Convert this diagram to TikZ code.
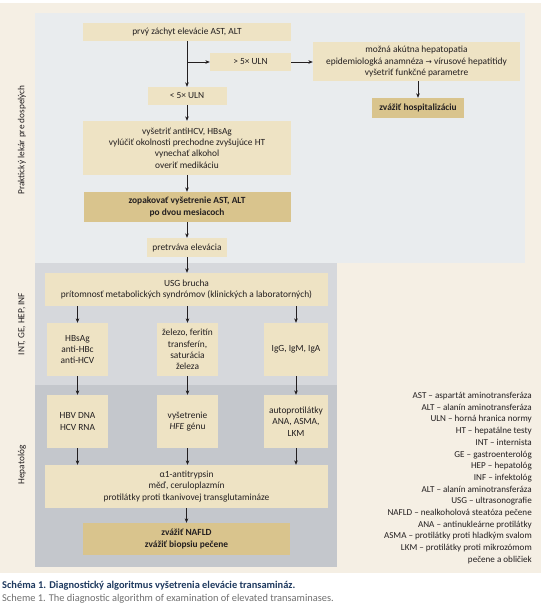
\documentclass[tikz,border=0pt]{standalone}
\usepackage{fontspec}
\setmainfont{Carlito}
\newfontfamily\symfont{DejaVu Sans}
\usetikzlibrary{arrows.meta}
\definecolor{bgbeige}{HTML}{F5EFE4}
\definecolor{panelA}{HTML}{E9ECEE}
\definecolor{panelB}{HTML}{D6D8DC}
\definecolor{panelC}{HTML}{C4C7CC}
\definecolor{lighttan}{HTML}{EEE3C4}
\definecolor{darktan}{HTML}{D9C48D}
\definecolor{capblue}{HTML}{1F3A5F}
\definecolor{capgrey}{HTML}{707070}
\definecolor{ink}{HTML}{231F20}
\begin{document}
\begin{tikzpicture}[x=1pt,y=-1pt,
  box/.style={fill=lighttan, inner sep=0pt, align=center, text=ink,
    font=\fontsize{9.4}{11.3}\selectfont},
  dbox/.style={box, fill=darktan, font=\fontsize{9.4}{11.3}\selectfont\bfseries},
  arr/.style={-{Stealth[length=4.5pt,width=3.6pt]}, line width=0.6pt, draw=ink},
  side/.style={rotate=90, text=ink, font=\fontsize{9.3}{11}\selectfont},
  legend/.style={align=right, anchor=east, inner sep=0pt, text=ink,
    font=\fontsize{9.1}{11.7}\selectfont}]

\useasboundingbox (0,0) rectangle (541,610);
\fill[white] (0,0) rectangle (541,610);
\fill[bgbeige] (0,3) rectangle (541,573);
\fill[panelA] (35,13) rectangle (525,263);
\fill[panelB] (35,263) rectangle (337,385);
\fill[panelC] (35,385) rectangle (337,567);

% side labels
\node[side] (lblA) at (22,140) {Praktický lekár pre dospelých};
\node[side] (lblB) at (22,324) {INT, GE, HEP, INF};
\node[side] (lblC) at (22,465) {Hepatológ};

% top part
\node[box, minimum width=208pt, minimum height=18pt] (first) at (187,32) {prvý záchyt elevácie AST, ALT};
\node[box, minimum width=81pt, minimum height=18pt] (gt) at (250.5,62) {> 5× ULN};
\node[box, minimum width=207pt, minimum height=39pt] (acute) at (416.5,61.5)
  {možná akútna hepatopatia\\epidemiologká anamnéza {\symfont\fontsize{7.5}{9}\selectfont →} vírusové hepatitidy\\vyšetriť funkčné parametre};
\node[dbox, minimum width=92pt, minimum height=20pt] (hosp) at (418,108) {zvážiť hospitalizáciu};
\node[box, minimum width=79pt, minimum height=18pt] (lt) at (187,96) {< 5× ULN};
\node[box, minimum width=208pt, minimum height=54pt] (exam) at (187,148)
  {vyšetriť antiHCV, HBsAg\\vylúčiť okolnosti prechodne zvyšujúce HT\\vynechať alkohol\\overiť medikáciu};
\node[dbox, minimum width=207pt, minimum height=30pt] (repeat) at (187,207)
  {zopakovať vyšetrenie AST, ALT\\po dvou mesiacoch};
\node[box, minimum width=80pt, minimum height=19pt] (persist) at (187,247.5) {pretrváva elevácia};

% middle panel
\node[box, minimum width=283pt, minimum height=33pt] (usg) at (186.5,289.5)
  {USG brucha\\prítomnosť metabolických syndrómov (klinických a laboratorných)};
\node[box, minimum width=61pt, minimum height=53pt] (hbs) at (77.5,349.5) {HBsAg\\anti-HBc\\anti-HCV};
\node[box, minimum width=61pt, minimum height=53pt] (iron) at (187.5,349.5) {železo, feritín\\transferín,\\saturácia\\železa};
\node[box, minimum width=64pt, minimum height=53pt] (ig) at (296,349.5) {IgG, IgM, IgA};

% bottom panel
\node[box, minimum width=61pt, minimum height=53pt] (dna) at (77.5,421.5) {HBV DNA\\HCV RNA};
\node[box, minimum width=61pt, minimum height=53pt] (hfe) at (187.5,421.5) {vyšetrenie\\\textit{HFE} génu};
\node[box, minimum width=64pt, minimum height=53pt] (auto) at (296,421.5) {autoprotilátky\\ANA, ASMA,\\LKM};
\node[box, minimum width=283pt, minimum height=43pt] (alpha) at (186.5,486.5)
  {α1-antitrypsin\\měď, ceruloplazmín\\protilátky proti tkanivovej transglutamináze};
\node[dbox, minimum width=207pt, minimum height=32pt] (nafld) at (186.5,539)
  {zvážiť NAFLD\\zvážiť biopsiu pečene};

% connectors
\coordinate (br) at (first.south |- gt.west);
\draw[arr] (first.south) -- (lt.north);
\draw[arr] (br) -- (gt.west);
\draw[arr] (gt.east) -- (gt.east -| acute.west);
\draw[arr] (acute.south -| hosp.north) -- (hosp.north);
\draw[arr] (lt.south) -- (exam.north);
\draw[arr] (exam.south) -- (repeat.north);
\draw[arr] (repeat.south) -- (persist.north);
\draw[arr] (persist.south) -- (persist.south |- usg.north);
\draw[arr] (usg.south -| hbs.north) -- (hbs.north);
\draw[arr] (usg.south -| iron.north) -- (iron.north);
\draw[arr] (usg.south -| ig.north) -- (ig.north);
\draw[arr] (hbs.south) -- (dna.north);
\draw[arr] (iron.south) -- (hfe.north);
\draw[arr] (ig.south) -- (auto.north);
\draw[arr] (dna.south) -- (dna.south |- alpha.north);
\draw[arr] (hfe.south) -- (hfe.south |- alpha.north);
\draw[arr] (auto.south) -- (auto.south |- alpha.north);
\draw[arr] (alpha.south) -- (alpha.south |- nafld.north);

% legend
\node[legend] (leg) at (532,478) {AST – aspartát aminotransferáza\\
ALT – alanín aminotransferáza\\
ULN – horná hranica normy\\
HT – hepatálne testy\\
INT – internista\\
GE – gastroenterológ\\
HEP – hepatológ\\
INF – infektológ\\
ALT – alanín aminotransferáza\\
USG – ultrasonografie\\
NAFLD – nealkoholová steatóza pečene\\
ANA – antinukleárne protilátky\\
ASMA – protilátky proti hladkým svalom\\
LKM – protilátky proti mikrozómom\\
pečene a obličiek};

% caption
\node[anchor=west, inner sep=0pt, text=capblue, font=\fontsize{10.4}{12}\selectfont\bfseries] (cap1) at (2,586)
  {Schéma 1. Diagnostický algoritmus vyšetrenia elevácie transamináz.};
\node[anchor=west, inner sep=0pt, text=capgrey, font=\fontsize{10.4}{12}\selectfont] (cap2) at (2,599)
  {Scheme 1. The diagnostic algorithm of examination of elevated transaminases.};
\end{tikzpicture}
\end{document}
